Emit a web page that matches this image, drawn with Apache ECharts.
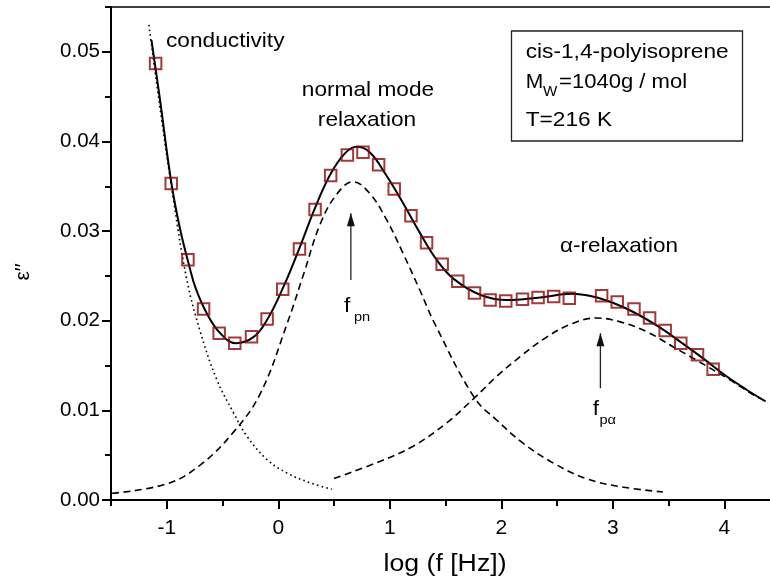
<!DOCTYPE html>
<html>
<head>
<meta charset="utf-8">
<script src="https://cdn.jsdelivr.net/npm/echarts@6/dist/echarts.min.js"></script>
<style>
html,body{margin:0;padding:0;background:#fff;}
#c{width:770px;height:585px;}
</style>
</head>
<body>
<div id="c"></div>
<script>
// ---- data ----
const pointsX = [-1.10, -0.96, -0.81, -0.67, -0.53, -0.39, -0.24, -0.10, 0.04, 0.19, 0.33, 0.47, 0.62, 0.76, 0.90, 1.04, 1.19, 1.33, 1.47, 1.61, 1.76, 1.90, 2.04, 2.19, 2.33, 2.47, 2.61, 2.90, 3.04, 3.19, 3.33, 3.47, 3.61, 3.76, 3.90];
const pointsY = [0.0487, 0.0353, 0.0268, 0.0213, 0.0186, 0.0175, 0.0182, 0.0202, 0.0235, 0.0280, 0.0324, 0.0362, 0.0385, 0.0388, 0.0374, 0.0347, 0.0317, 0.0287, 0.0263, 0.0244, 0.0231, 0.0223, 0.0222, 0.0224, 0.0226, 0.0227, 0.0225, 0.0228, 0.0221, 0.0213, 0.0203, 0.0189, 0.0175, 0.0162, 0.0146];

const fitX = [-1.137, -1.06, -0.96, -0.88, -0.80, -0.74, -0.64, -0.52, -0.38, -0.22, -0.10, 0.04, 0.19, 0.33, 0.47, 0.60, 0.70, 0.82, 0.97, 1.12, 1.27, 1.42, 1.57, 1.81, 2.05, 2.35, 2.63, 2.82, 3.00, 3.18, 3.39, 3.60, 3.81, 4.02, 4.20, 4.37];
const fitY = [0.0513, 0.0446, 0.0355, 0.0302, 0.0262, 0.0236, 0.0208, 0.0186, 0.0175, 0.0182, 0.0201, 0.0236, 0.0281, 0.0326, 0.0364, 0.0387, 0.0394, 0.0388, 0.0362, 0.0331, 0.0298, 0.0268, 0.0247, 0.0229, 0.0223, 0.0226, 0.0230, 0.0227, 0.0220, 0.0210, 0.0195, 0.0177, 0.0158, 0.0138, 0.0123, 0.0110];

const condX = [-1.16, -1.07, -0.94, -0.82, -0.70, -0.55, -0.40, -0.28, -0.10, 0.08, 0.29, 0.48];
const condY = [0.0530, 0.0446, 0.0335, 0.0246, 0.0188, 0.0134, 0.0097, 0.0071, 0.0045, 0.0030, 0.0019, 0.0012];

const normalX = [-1.49, -1.00, -0.70, -0.40, -0.16, 0.08, 0.23, 0.38, 0.53, 0.67, 0.82, 0.97, 1.12, 1.27, 1.41, 1.76, 1.96, 2.20, 2.47, 2.76, 3.06, 3.45];
const normalY = [0.00075, 0.0018, 0.0039, 0.0076, 0.0119, 0.0197, 0.0253, 0.0309, 0.0342, 0.0355, 0.0342, 0.0313, 0.0275, 0.0234, 0.0195, 0.0114, 0.0089, 0.0063, 0.0041, 0.0024, 0.0015, 0.0009];

const alphaX = [0.50, 0.91, 1.21, 1.51, 1.76, 1.96, 2.17, 2.41, 2.64, 2.85, 3.06, 3.30, 3.54, 3.75, 4.05, 4.29, 4.33];
const alphaY = [0.0024, 0.0043, 0.0060, 0.0086, 0.0114, 0.0138, 0.0160, 0.0182, 0.0197, 0.0203, 0.0199, 0.0188, 0.0171, 0.0156, 0.0134, 0.0115, 0.0113];

// arrows (x, bottom y, tip y)
const arrowPn = [0.651, 0.02455, 0.0320];
const arrowPa = [2.889, 0.01247, 0.0186];

// axes
const xTickValues = [-1, 0, 1, 2, 3, 4];
const xMinorValues = [-1.5, -0.5, 0.5, 1.5, 2.5, 3.5];
const yTickValues = [0, 0.01, 0.02, 0.03, 0.04, 0.05];
const yMinorValues = [0.005, 0.015, 0.025, 0.035, 0.045, 0.055];

// ---- chart ----
const FONT = '"Liberation Sans", Arial, sans-serif';
const zip = (xs, ys) => xs.map((x, i) => [x, ys[i]]);
const X_MIN = -1.5, X_MAX = 4.41, Y_MIN = 0, Y_MAX = 0.055;
const BLANK = () => '';

function arrowSeries(a) {
  return {
    type: 'line', xAxisIndex: 0, yAxisIndex: 0, z: 4,
    lineStyle: { color: '#222', width: 1.3 },
    itemStyle: { color: '#111' },
    symbol: 'none', silent: true,
    data: [
      { value: [a[0], a[1]], symbol: 'none' },
      { value: [a[0], a[2]], symbol: 'triangle', symbolSize: [8, 13], symbolOffset: [0, '50%'] }
    ]
  };
}

const option = {
  animation: false,
  backgroundColor: '#fff',
  grid: { left: 111, right: 0, top: 7, bottom: 85, outerBoundsMode: 'none' },
  xAxis: [
    { type: 'value', min: X_MIN, max: X_MAX, position: 'bottom',
      axisLine: { show: true, onZero: false, lineStyle: { color: '#000', width: 2 } },
      axisTick: { show: true, customValues: xTickValues, length: 9, lineStyle: { color: '#000', width: 2 } },
      axisLabel: { show: true, customValues: xTickValues, margin: 18, fontSize: 21, fontFamily: FONT, color: '#000',
        formatter: v => String(v) },
      splitLine: { show: false } },
    { type: 'value', min: X_MIN, max: X_MAX, position: 'bottom',
      axisLine: { show: false, onZero: false },
      axisTick: { show: true, customValues: xMinorValues, length: 6, lineStyle: { color: '#000', width: 2 } },
      axisLabel: { show: true, customValues: xMinorValues, formatter: BLANK },
      splitLine: { show: false } },
    { type: 'value', min: X_MIN, max: X_MAX, position: 'top',
      axisLine: { show: true, onZero: false, lineStyle: { color: '#000', width: 1.5 } },
      axisTick: { show: false }, axisLabel: { show: false }, splitLine: { show: false } }
  ],
  yAxis: [
    { type: 'value', min: Y_MIN, max: Y_MAX, position: 'left',
      axisLine: { show: true, onZero: false, lineStyle: { color: '#000', width: 2 } },
      axisTick: { show: true, customValues: yTickValues, length: 9, lineStyle: { color: '#000', width: 2 } },
      axisLabel: { show: true, customValues: yTickValues, margin: 11, fontSize: 20.5, fontFamily: FONT, color: '#000',
        formatter: v => v.toFixed(2) },
      splitLine: { show: false } },
    { type: 'value', min: Y_MIN, max: Y_MAX, position: 'left',
      axisLine: { show: false, onZero: false },
      axisTick: { show: true, customValues: yMinorValues, length: 6, lineStyle: { color: '#000', width: 2 } },
      axisLabel: { show: true, customValues: yMinorValues, formatter: BLANK },
      splitLine: { show: false } }
  ],
  series: [
    { name: 'fit', type: 'line', xAxisIndex: 0, yAxisIndex: 0, smooth: 0.4, showSymbol: false, symbol: 'none', z: 3,
      lineStyle: { color: '#000', width: 2 }, data: zip(fitX, fitY) },
    { name: 'conductivity', type: 'line', xAxisIndex: 0, yAxisIndex: 0, smooth: 0.4, showSymbol: false, symbol: 'none', z: 2,
      lineStyle: { color: '#000', width: 1.6, type: [1.6, 3.2] }, data: zip(condX, condY) },
    { name: 'normal mode', type: 'line', xAxisIndex: 0, yAxisIndex: 0, smooth: 0.4, showSymbol: false, symbol: 'none', z: 2,
      lineStyle: { color: '#000', width: 1.6, type: [7, 4.5] }, data: zip(normalX, normalY) },
    { name: 'alpha', type: 'line', xAxisIndex: 0, yAxisIndex: 0, smooth: 0.4, showSymbol: false, symbol: 'none', z: 2,
      lineStyle: { color: '#000', width: 1.6, type: [7, 4.5] }, data: zip(alphaX, alphaY) },
    { name: 'data', type: 'scatter', xAxisIndex: 0, yAxisIndex: 0, symbol: 'rect', symbolSize: 11.5, z: 5,
      itemStyle: { color: 'rgba(0,0,0,0)', borderColor: '#8a0a0a', borderWidth: 2 }, data: zip(pointsX, pointsY) },
    arrowSeries(arrowPn),
    arrowSeries(arrowPa)
  ]
};

function txt(text, x, y, fs, sx, align, extra) {
  return Object.assign({
    type: 'text', x: x, y: y, scaleX: sx, scaleY: 1, z: 100, silent: true,
    style: { text: text, fontSize: fs, fontFamily: FONT, fill: '#000', align: align || 'left', verticalAlign: 'middle' }
  }, extra || {});
}

const g = [];
// axis titles
g.push(txt('log (f [Hz])', 445, 565, 23, 1.16, 'center'));
g.push(txt('ε′′', 23, 272, 21, 1, 'center', { rotation: Math.PI / 2 }));
// annotations
g.push(txt('conductivity', 166, 41, 21, 1.08, 'left'));
g.push(txt('normal mode', 368, 90, 21, 1.08, 'center'));
g.push(txt('relaxation', 367, 120.4, 21, 1.08, 'center'));
g.push(txt('α-relaxation', 619, 246, 21, 1.07, 'center'));
g.push(txt('f', 344, 306.7, 21, 1.08, 'left'));
g.push(txt('pn', 354, 317.2, 13.5, 1.08, 'left'));
g.push(txt('f', 592.7, 409.4, 21, 1.08, 'left'));
g.push(txt('pα', 599.5, 420.5, 13.5, 1.08, 'left'));
// info box
g.push({ type: 'rect', z: 90, silent: true, shape: { x: 511.5, y: 31, width: 231, height: 110 },
  style: { fill: '#fff', stroke: '#222', lineWidth: 1.3 } });
g.push(txt('cis-1,4-polyisoprene', 525.7, 52.7, 21, 1.08, 'left'));
g.push(txt('M', 525.7, 82.7, 21, 1.0, 'left'));
g.push(txt('W', 543, 91.8, 14, 1.08, 'left'));
g.push(txt('=1040g / mol', 559, 82.7, 21, 1.05, 'left'));
g.push(txt('T=216 K', 525.7, 120.4, 21, 1.08, 'left'));
option.graphic = g;

const chart = echarts.init(document.getElementById('c'), null, { renderer: 'canvas' });
chart.setOption(option);
</script>
</body>
</html>
